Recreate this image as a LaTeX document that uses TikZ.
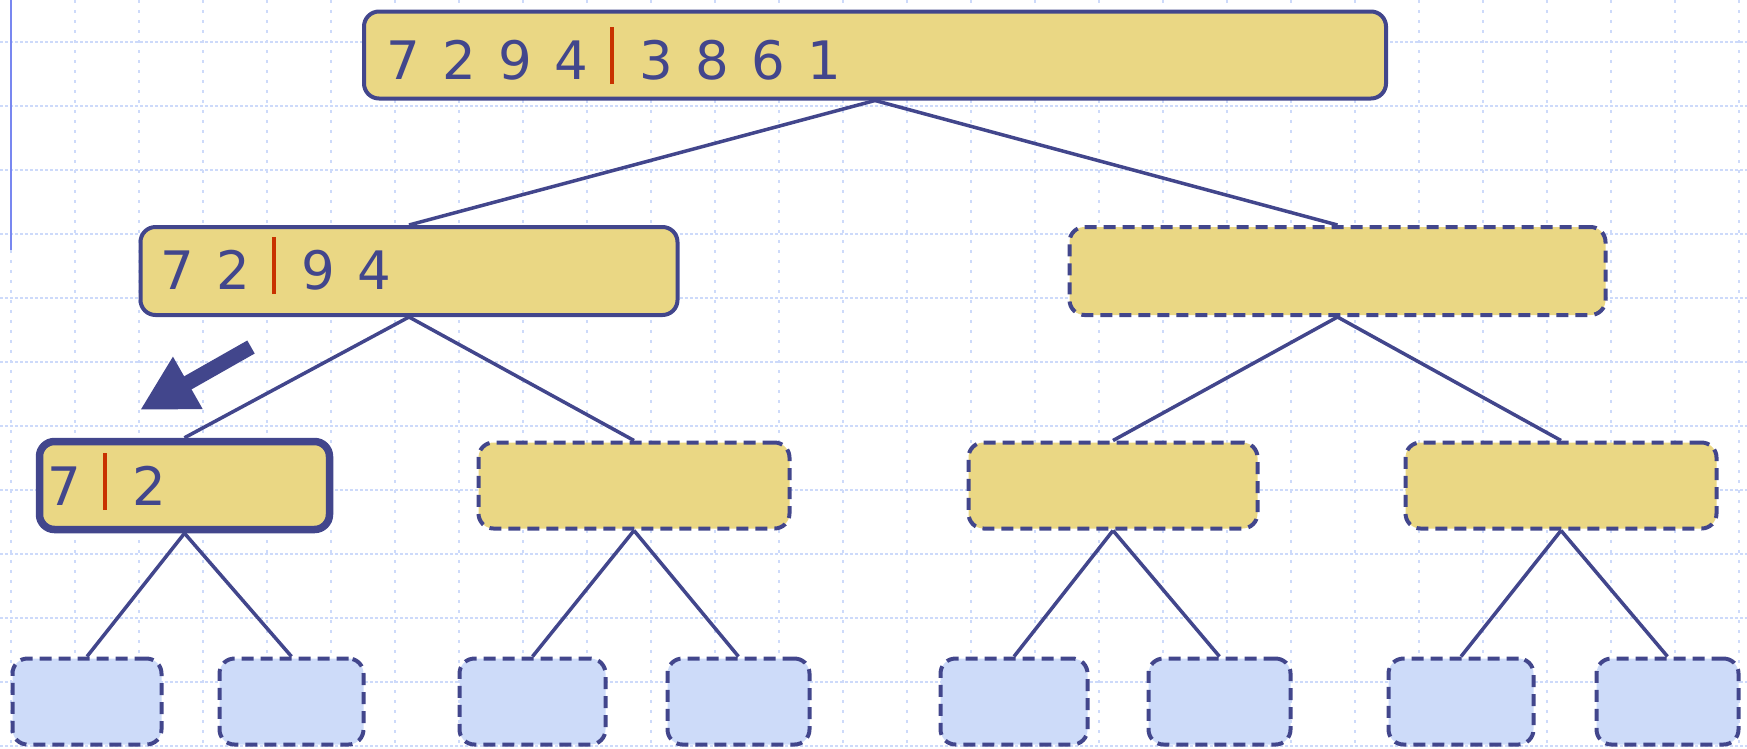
\documentclass[tikz,border=0pt]{standalone}
\usepackage{fontspec}
\newfontfamily\digitfont{DejaVu Sans}
\usetikzlibrary{arrows.meta}

\definecolor{treeblue}{RGB}{66,70,140}
\definecolor{runtan}{RGB}{234,215,132}
\definecolor{leafblue}{RGB}{205,219,249}
\definecolor{gridblue}{RGB}{205,218,250}
\definecolor{splitred}{RGB}{200,50,0}
\definecolor{marginblue}{RGB}{120,135,240}

\newcommand{\runfont}{\digitfont\fontsize{53pt}{60pt}\selectfont\spaceskip=0.42em\relax}
\newcommand{\splitbar}{\textcolor{splitred}{\rule[-5pt]{3.5pt}{57pt}}\kern3pt}

\tikzset{every picture/.style={line width=3pt},
  runbox/.style={draw=treeblue, fill=runtan, line width=4pt, rounded corners=15pt, inner sep=0pt},
  openbox/.style={runbox, dash pattern={on 12pt off 7pt}},
  curbox/.style={runbox, line width=7.5pt},
  leafbox/.style={openbox, fill=leafblue},
  runtext/.style={anchor=base west, inner sep=0pt, text=treeblue, font=\runfont},
  treeedge/.style={draw=treeblue, line width=3.5pt},
  gridh/.style={draw=gridblue, line width=2pt, dash pattern={on 3pt off 2pt}},
  gridv/.style={draw=gridblue, line width=2pt, dash pattern={on 2.5pt off 7.5pt}},
  pointer/.style={draw=treeblue, fill=treeblue, line width=15pt, -{Triangle[length=55pt,width=56pt]}}
}

\begin{document}
\begin{tikzpicture}[x=1pt,y=1pt,yscale=-1,xscale=1]
\useasboundingbox (0,0) rectangle (1747,748);
% Grid
\foreach \y in {42,106,...,746} \draw[gridh] (0,\y) -- (1747,\y);
\foreach \x in {11,75,...,1739} \draw[gridv] (\x,0) -- (\x,748);
\draw[marginblue, line width=2pt] (11,0) -- (11,250);
% Level 0
\node[runbox, minimum width=1022pt, minimum height=87pt] (root) at (875,55) {};
% Level 1
\node[runbox, minimum width=537pt, minimum height=88pt] (lefthalf) at (409,271) {};
\node[openbox, minimum width=536pt, minimum height=88pt] (righthalf) at (1337.5,271) {};
% Level 2
\node[curbox, minimum width=290pt, minimum height=88pt] (qa) at (184.5,485.5) {};
\node[openbox, minimum width=311pt, minimum height=86pt] (qb) at (634,485.5) {};
\node[openbox, minimum width=289pt, minimum height=86pt] (qc) at (1113,485.5) {};
\node[openbox, minimum width=311pt, minimum height=86pt] (qd) at (1561,485.5) {};
% Level 3
\node[leafbox, minimum width=149pt, minimum height=86pt] (leafa) at (87,701.5) {};
\node[leafbox, minimum width=144pt, minimum height=86pt] (leafb) at (291.5,701.5) {};
\node[leafbox, minimum width=146pt, minimum height=86pt] (leafc) at (532.5,701.5) {};
\node[leafbox, minimum width=142pt, minimum height=86pt] (leafd) at (738.5,701.5) {};
\node[leafbox, minimum width=147pt, minimum height=86pt] (leafe) at (1014,701.5) {};
\node[leafbox, minimum width=142pt, minimum height=86pt] (leaff) at (1219.5,701.5) {};
\node[leafbox, minimum width=145pt, minimum height=86pt] (leafg) at (1461,701.5) {};
\node[leafbox, minimum width=142pt, minimum height=86pt] (leafh) at (1667.5,701.5) {};
% Edges
\draw[treeedge] (root.south) -- (lefthalf.north);
\draw[treeedge] (root.south) -- (righthalf.north);
\draw[treeedge] (lefthalf.south) -- (qa.north);
\draw[treeedge] (lefthalf.south) -- (qb.north);
\draw[treeedge] (righthalf.south) -- (qc.north);
\draw[treeedge] (righthalf.south) -- (qd.north);
\draw[treeedge] (qa.south) -- (leafa.north);
\draw[treeedge] (qa.south) -- (leafb.north);
\draw[treeedge] (qb.south) -- (leafc.north);
\draw[treeedge] (qb.south) -- (leafd.north);
\draw[treeedge] (qc.south) -- (leafe.north);
\draw[treeedge] (qc.south) -- (leaff.north);
\draw[treeedge] (qd.south) -- (leafg.north);
\draw[treeedge] (qd.south) -- (leafh.north);
% Text Node
\node[runtext] (roottxt) at (385,79) {7 2 9 4 \splitbar{} 3 8 6 1};
\node[runtext] (lefttxt) at (159,289) {7 2 \splitbar{} 9 4};
\node[runtext] (qatxt) at (46,505) {7 \splitbar{} 2};
% Pointer
\coordinate (pointtail) at (251,347);
\coordinate (pointtip) at (140,410);
\draw[pointer] (pointtail) -- (pointtip);
\end{tikzpicture}
\end{document}
